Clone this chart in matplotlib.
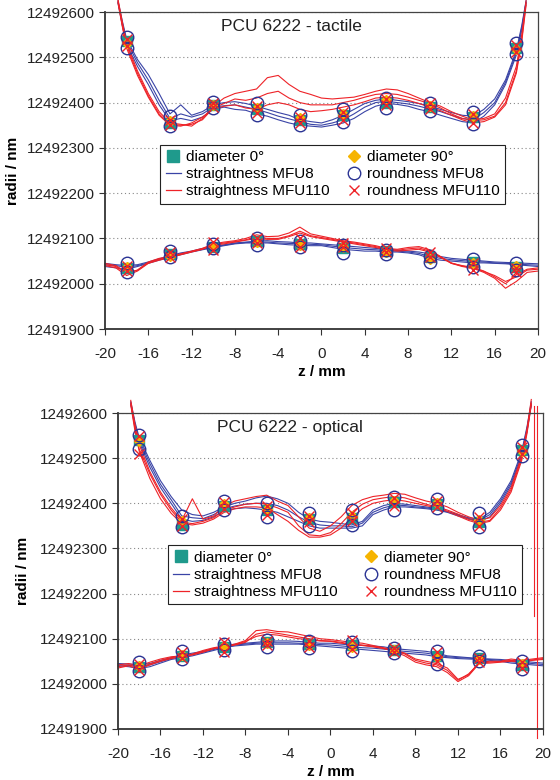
import numpy as np
import matplotlib
matplotlib.use("Agg")
import matplotlib.pyplot as plt
from matplotlib.lines import Line2D

plt.rcParams['font.family'] = ['Liberation Sans', 'DejaVu Sans']
plt.rcParams['axes.unicode_minus'] = False

BASE = 12492000

# z positions (mm)
z_upper = [-18.8, -18.4, -18, -17, -16, -15, -14, -13, -12, -11, -10, -9, -8, -7, -6, -5, -4, -3, -2, -1,
           0, 1, 2, 3, 4, 5, 6, 7, 8, 9, 10, 11, 12, 13, 14, 15, 16, 17, 18, 18.5, 18.9]
z_lower = list(range(-20, 21))
z_marks = [-18, -14, -10, -6, -2, 2, 6, 10, 14, 18]

# ---------------- tactile (radii - 12492000 nm) ----------------
tac_up_blue = [
    [625, 580, 540, 495, 462, 420, 375, 395, 372, 380, 395, 400, 402, 398, 392, 385, 378, 372, 362, 358,
     355, 362, 372, 385, 398, 405, 408, 405, 402, 398, 392, 385, 378, 372, 370, 385, 408, 450, 515, 570, 625],
    [620, 570, 528, 480, 440, 395, 360, 365, 360, 368, 385, 390, 385, 383, 375, 370, 362, 355, 350, 348,
     346, 350, 355, 365, 380, 392, 398, 396, 392, 385, 380, 372, 365, 358, 355, 370, 395, 440, 505, 560, 620],
    [622, 575, 535, 488, 450, 405, 365, 375, 368, 375, 390, 393, 395, 390, 385, 378, 370, 364, 358, 352,
     350, 355, 362, 375, 390, 400, 403, 400, 397, 392, 386, 380, 372, 365, 362, 378, 400, 445, 510, 565, 622],
]
tac_up_red = [
    [628, 578, 530, 470, 420, 380, 355, 352, 348, 365, 392, 410, 420, 425, 430, 455, 460, 440, 425, 418,
     410, 408, 410, 412, 418, 425, 430, 428, 420, 410, 400, 392, 380, 370, 362, 365, 375, 410, 480, 550, 625],
    [624, 572, 525, 465, 415, 375, 352, 350, 352, 362, 388, 398, 408, 405, 410, 420, 425, 410, 400, 395,
     395, 395, 400, 405, 412, 418, 420, 418, 412, 405, 398, 388, 375, 365, 360, 362, 370, 400, 470, 540, 620],
    [620, 568, 520, 460, 412, 372, 350, 348, 355, 368, 385, 392, 395, 388, 385, 395, 400, 395, 385, 380,
     382, 385, 390, 395, 402, 410, 412, 410, 405, 398, 390, 382, 372, 362, 355, 358, 368, 395, 465, 535, 615],
]
tac_lo_blue = [
    [45, 42, 40, 42, 48, 55, 62, 68, 72, 78, 82, 86, 90, 92, 94, 95, 93, 92, 90, 90,
     88, 86, 84, 82, 80, 78, 76, 74, 72, 70, 66, 60, 56, 54, 52, 50, 48, 47, 46, 45, 44],
    [38, 35, 32, 38, 45, 52, 58, 64, 70, 75, 80, 84, 88, 90, 90, 90, 88, 86, 85, 84,
     84, 80, 76, 74, 72, 72, 70, 70, 68, 64, 56, 52, 50, 48, 46, 46, 45, 44, 42, 40, 38],
    [42, 40, 36, 40, 46, 54, 60, 66, 71, 76, 81, 85, 89, 91, 92, 92, 90, 89, 88, 87,
     86, 83, 80, 78, 76, 75, 73, 72, 70, 67, 60, 56, 53, 51, 49, 48, 46, 45, 44, 42, 41],
]
tac_lo_red = [
    [45, 40, 25, 30, 48, 56, 60, 66, 72, 78, 88, 92, 95, 100, 108, 104, 105, 112, 125, 110,
     105, 100, 95, 92, 88, 84, 78, 76, 80, 82, 75, 60, 45, 40, 36, 28, 15, 0, 20, 32, 35],
    [40, 35, 18, 28, 45, 52, 58, 64, 70, 76, 85, 88, 92, 96, 100, 98, 98, 104, 112, 104,
     100, 96, 92, 88, 84, 80, 75, 72, 74, 76, 70, 58, 45, 38, 34, 25, 12, -10, 5, 25, 28],
    [42, 38, 22, 30, 46, 54, 59, 65, 71, 77, 86, 90, 93, 97, 104, 100, 100, 106, 116, 106,
     102, 98, 93, 90, 86, 82, 76, 74, 77, 79, 72, 59, 46, 39, 35, 27, 18, 5, 15, 30, 32],
]
tac_up_d0 = [535, 355, 395, 385, 362, 372, 400, 390, 368, 520]
tac_up_d90 = [532, 360, 395, 388, 365, 375, 405, 392, 370, 518]
tac_up_rnd8 = [[545, 370, 402, 398, 372, 385, 410, 398, 380, 532],
               [520, 348, 388, 372, 350, 358, 388, 382, 352, 508]]
tac_up_rnd110 = [[540, 362, 400, 392, 368, 380, 408, 398, 375, 528],
                 [525, 350, 390, 378, 355, 362, 395, 385, 355, 512]]
tac_lo_d0 = [35, 65, 82, 95, 88, 78, 72, 58, 48, 38]
tac_lo_d90 = [38, 62, 84, 92, 86, 82, 70, 55, 45, 40]
tac_lo_rnd8 = [[45, 72, 88, 100, 95, 85, 75, 62, 55, 45],
               [25, 58, 78, 85, 80, 68, 65, 48, 38, 30]]
tac_lo_rnd110 = [[40, 70, 92, 102, 100, 90, 78, 70, 45, 35],
                 [28, 58, 75, 90, 82, 80, 70, 60, 30, 25]]

# ---------------- optical (radii - 12492000 nm) ----------------
opt_up_blue = [
    [625, 580, 545, 495, 450, 415, 385, 375, 372, 380, 392, 400, 405, 412, 416, 410, 400, 380, 365, 360,
     358, 355, 352, 360, 385, 395, 400, 398, 395, 392, 388, 382, 375, 368, 365, 380, 410, 450, 515, 570, 625],
    [620, 570, 535, 480, 435, 400, 365, 360, 362, 370, 385, 388, 390, 388, 385, 380, 370, 360, 350, 345,
     345, 345, 345, 350, 375, 385, 392, 392, 390, 388, 385, 380, 372, 365, 360, 370, 400, 440, 505, 560, 618],
    [622, 575, 540, 488, 442, 408, 372, 368, 366, 375, 388, 394, 398, 400, 400, 395, 385, 370, 358, 352,
     350, 350, 348, 356, 380, 390, 396, 395, 392, 390, 386, 381, 374, 366, 362, 375, 405, 445, 510, 565, 620],
]
opt_up_red = [
    [628, 575, 530, 470, 425, 390, 362, 410, 365, 372, 395, 405, 410, 415, 418, 405, 395, 370, 345, 338,
     350, 370, 395, 408, 415, 418, 422, 420, 412, 405, 400, 392, 380, 370, 362, 368, 395, 435, 505, 565, 630],
    [622, 565, 520, 465, 420, 385, 358, 355, 360, 368, 385, 392, 398, 400, 398, 390, 380, 350, 330, 328,
     335, 355, 380, 398, 408, 412, 415, 412, 405, 398, 392, 385, 376, 365, 358, 362, 390, 430, 500, 560, 622],
    [618, 560, 515, 455, 410, 378, 355, 352, 356, 365, 380, 388, 392, 392, 390, 375, 360, 340, 325, 325,
     330, 345, 368, 388, 400, 405, 408, 405, 400, 395, 390, 382, 372, 362, 355, 360, 385, 425, 495, 555, 618],
]
opt_lo_blue = [
    [45, 44, 42, 45, 52, 58, 64, 68, 72, 78, 84, 88, 90, 92, 94, 95, 95, 94, 92, 90,
     90, 88, 86, 85, 84, 82, 78, 76, 74, 72, 68, 62, 60, 58, 56, 55, 54, 52, 50, 48, 46],
    [40, 38, 34, 38, 46, 54, 58, 62, 68, 74, 80, 84, 86, 88, 88, 88, 88, 88, 86, 84,
     82, 80, 78, 76, 74, 72, 70, 68, 66, 64, 60, 58, 56, 55, 54, 52, 50, 46, 44, 42, 40],
    [42, 41, 38, 42, 49, 56, 61, 65, 70, 76, 82, 86, 88, 90, 91, 91, 91, 90, 89, 87,
     86, 84, 82, 80, 79, 77, 74, 72, 70, 68, 64, 60, 58, 57, 55, 54, 52, 49, 47, 45, 43],
]
opt_lo_red = [
    [42, 45, 40, 48, 55, 60, 62, 66, 74, 80, 84, 88, 96, 118, 120, 116, 115, 110, 105, 100,
     98, 95, 92, 90, 85, 80, 75, 68, 55, 50, 45, 35, 10, 20, 48, 50, 50, 55, 52, 55, 58],
    [35, 40, 32, 42, 50, 56, 60, 64, 70, 78, 82, 86, 92, 110, 115, 112, 108, 104, 100, 96,
     95, 92, 88, 85, 82, 78, 72, 62, 48, 42, 38, 25, 5, 18, 45, 46, 48, 50, 48, 52, 54],
    [38, 42, 36, 44, 52, 58, 62, 65, 72, 78, 83, 87, 94, 105, 110, 108, 104, 100, 98, 95,
     94, 90, 88, 86, 83, 79, 74, 66, 52, 46, 42, 30, 8, 22, 46, 48, 49, 52, 50, 53, 56],
]
opt_up_d0 = [540, 352, 395, 385, 365, 368, 402, 398, 358, 518]
opt_up_d90 = [538, 360, 398, 388, 368, 372, 405, 400, 362, 515]
opt_up_rnd8 = [[552, 372, 405, 400, 378, 385, 415, 410, 378, 530],
               [520, 348, 385, 370, 350, 352, 385, 390, 348, 505]]
opt_up_rnd110 = [[548, 365, 402, 395, 372, 378, 412, 405, 370, 525],
                 [510, 350, 388, 375, 358, 360, 395, 392, 350, 510]]
opt_lo_d0 = [38, 62, 82, 92, 88, 85, 75, 62, 58, 42]
opt_lo_d90 = [40, 64, 84, 90, 86, 82, 74, 60, 56, 44]
opt_lo_rnd8 = [[48, 72, 88, 98, 96, 92, 80, 72, 62, 50],
               [28, 55, 75, 82, 80, 72, 68, 45, 50, 32]]
opt_lo_rnd110 = [[45, 70, 92, 95, 95, 98, 80, 70, 58, 48],
                 [30, 58, 70, 85, 82, 78, 70, 50, 48, 35]]
# stray vertical red traces at the right end of the optical plot
opt_vline_z = [19.2, 19.45]
opt_vline_lo = [150, -120]
opt_vline_hi = [615, 615]

C_TEAL = '#1f9a8c'
C_GOLD = '#f6b400'
C_NAVY = '#2b3494'
C_BLUE = '#3a44a6'
C_RED = '#ee2328'


def draw_panel(ax, title, title_x, bands):
    for zz, blues, reds, d0, d90, rnd8, rnd110 in bands:
        for tr in blues:
            ax.plot(zz, BASE + np.array(tr), color=C_BLUE, lw=0.8, clip_on=False, zorder=2)
        for tr in reds:
            ax.plot(zz, BASE + np.array(tr), color=C_RED, lw=0.8, clip_on=False, zorder=2)
        ax.plot(z_marks, BASE + np.array(d0), ls='none', marker='s', ms=7, color=C_TEAL, zorder=3)
        ax.plot(z_marks, BASE + np.array(d90), ls='none', marker='D', ms=5, color=C_GOLD, zorder=4)
        for r in rnd8:
            ax.plot(z_marks, BASE + np.array(r), ls='none', marker='o', ms=9, mfc='none',
                    mec=C_NAVY, mew=1.0, zorder=5)
        for r in rnd110:
            ax.plot(z_marks, BASE + np.array(r), ls='none', marker='x', ms=7, color=C_RED,
                    mew=1.0, zorder=6)

    ax.set_xlim(-20, 20)
    ax.set_ylim(12491900, 12492600)
    ax.set_xticks(np.arange(-20, 21, 4))
    ax.set_yticks(np.arange(12491900, 12492601, 100))
    ax.ticklabel_format(axis='y', useOffset=False, style='plain')
    ax.yaxis.grid(True, linestyle=(0, (1, 2.5)), color='#888888', lw=0.8)
    ax.set_axisbelow(True)
    ax.tick_params(axis='both', labelsize=11, color='#333333', labelcolor='#222222', direction='out')
    ax.tick_params(axis='y', length=4, pad=3)
    ax.tick_params(axis='x', length=4, pad=9)
    for s in ['left', 'bottom']:
        ax.spines[s].set_linewidth(1.3)
        ax.spines[s].set_color('#333333')
    for s in ['top', 'right']:
        ax.spines[s].set_linewidth(0.9)
        ax.spines[s].set_color('#444444')
    ax.set_xlabel('z / mm', fontsize=11, fontweight='bold', labelpad=3)
    ax.set_ylabel('radii / nm', fontsize=11, fontweight='bold')
    ax.text(title_x, 0.955, title, transform=ax.transAxes, fontsize=12.5, ha='center', va='center',
            color='#222222')

    handles = [
        Line2D([], [], ls='none', marker='s', ms=9, color=C_TEAL),
        Line2D([], [], color=C_BLUE, lw=0.9),
        Line2D([], [], color=C_RED, lw=0.9),
        Line2D([], [], ls='none', marker='D', ms=6, color=C_GOLD),
        Line2D([], [], ls='none', marker='o', ms=9, mfc='none', mec=C_NAVY, mew=1.0),
        Line2D([], [], ls='none', marker='x', ms=7, color=C_RED, mew=1.0),
    ]
    labels = ['diameter 0°', 'straightness MFU8', 'straightness MFU110',
              'diameter 90°', 'roundness MFU8', 'roundness MFU110']
    return handles, labels


fig = plt.figure(figsize=(5.6, 7.8), dpi=100)
ax1 = fig.add_axes([0.1875, 0.5782, 0.7732, 0.4064])
ax2 = fig.add_axes([0.2107, 0.0654, 0.7589, 0.4051])

h, l = draw_panel(ax1, 'PCU 6222 - tactile', 0.43, [
    (z_upper, tac_up_blue, tac_up_red, tac_up_d0, tac_up_d90, tac_up_rnd8, tac_up_rnd110),
    (z_lower, tac_lo_blue, tac_lo_red, tac_lo_d0, tac_lo_d90, tac_lo_rnd8, tac_lo_rnd110),
])
leg = ax1.legend(h, l, ncol=2, loc='upper left', bbox_to_anchor=(0.11, 0.605), fontsize=11,
                 handlelength=1.0, handletextpad=0.35, columnspacing=1.1, labelspacing=0.2,
                 borderpad=0.35, fancybox=False, framealpha=1, edgecolor='#222222')
leg.get_frame().set_linewidth(0.8)
leg.set_zorder(10)
ax1.yaxis.set_label_coords(-0.196, 0.5)

h, l = draw_panel(ax2, 'PCU 6222 - optical', 0.405, [
    (z_upper, opt_up_blue, opt_up_red, opt_up_d0, opt_up_d90, opt_up_rnd8, opt_up_rnd110),
    (z_lower, opt_lo_blue, opt_lo_red, opt_lo_d0, opt_lo_d90, opt_lo_rnd8, opt_lo_rnd110),
])
for zv, lo, hi in zip(opt_vline_z, opt_vline_lo, opt_vline_hi):
    ax2.plot([zv, zv], [BASE + lo, BASE + hi], color=C_RED, lw=0.8, clip_on=False, zorder=2)
leg = ax2.legend(h, l, ncol=2, loc='upper left', bbox_to_anchor=(0.1, 0.605), fontsize=11,
                 handlelength=1.0, handletextpad=0.35, columnspacing=1.7, labelspacing=0.2,
                 borderpad=0.35, fancybox=False, framealpha=1, edgecolor='#222222')
leg.get_frame().set_linewidth(0.8)
leg.set_zorder(10)
ax2.yaxis.set_label_coords(-0.207, 0.5)

fig.savefig('out.png', dpi=100)
